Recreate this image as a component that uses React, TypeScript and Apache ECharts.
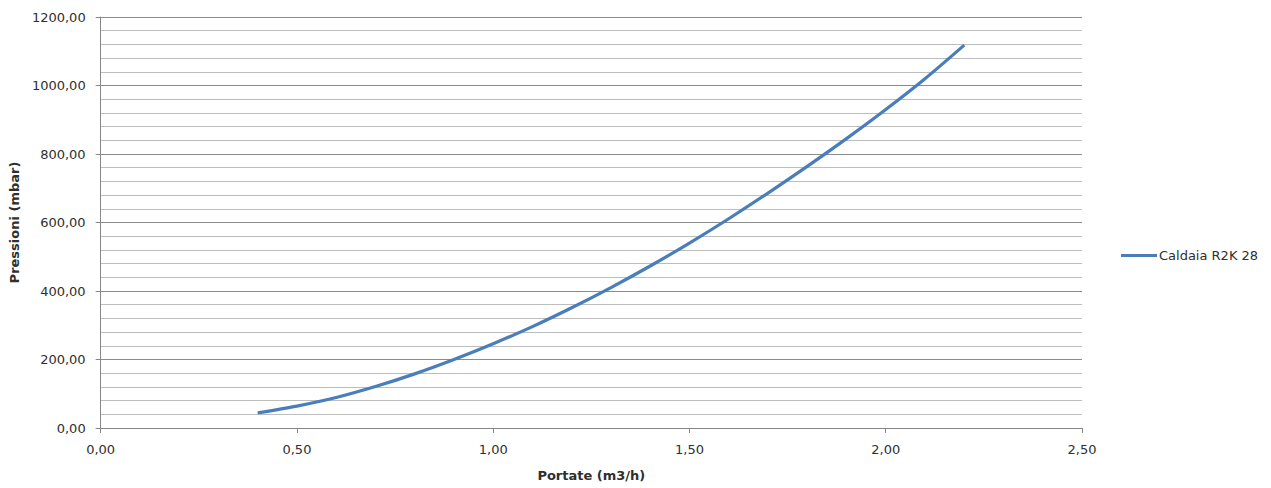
import React, { useEffect, useRef } from "react";
import * as echarts from "echarts";

const seriesName = "Caldaia R2K 28";
const portate = [0.4, 0.5, 0.6, 0.7, 0.8, 0.9, 1.0, 1.1, 1.2, 1.3, 1.4, 1.5, 1.6, 1.7, 1.8, 1.9, 2.0, 2.1, 2.2];
const pressioni = [44, 64, 89, 121, 158, 200, 246, 296, 351, 410, 473, 540, 611, 686, 764, 845, 930, 1020, 1118];
const xAxisTitle = "Portate (m3/h)";
const yAxisTitle = "Pressioni (mbar)";

const fmt = (v: number) => v.toFixed(2).replace(".", ",");

export default function App() {
  const ref = useRef<HTMLDivElement>(null);
  useEffect(() => {
    if (!ref.current) return;
    const chart = echarts.init(ref.current, null, { renderer: "svg" });
    const font = "DejaVu Sans";
    const txt = "#2f2f2f";
    chart.setOption({
      animation: false,
      backgroundColor: "#ffffff",
      textStyle: { fontFamily: font },
      grid: { left: 100, right: 189, top: 17, bottom: 60, containLabel: false },
      legend: {
        show: true,
        orient: "vertical",
        left: 1116,
        top: 244,
        itemWidth: 36,
        itemHeight: 3,
        icon: "rect",
        textStyle: { fontFamily: font, fontSize: 13, color: txt, padding: [0, 0, 0, -3] },
        data: [seriesName],
      },
      xAxis: {
        type: "value",
        min: 0,
        max: 2.5,
        interval: 0.5,
        name: xAxisTitle,
        nameLocation: "middle",
        nameGap: 41,
        nameTextStyle: { fontFamily: font, fontSize: 13, fontWeight: "bold", color: txt },
        axisLine: { show: true, lineStyle: { color: "#868686", width: 1 } },
        axisTick: { show: true, length: 5, lineStyle: { color: "#868686" } },
        axisLabel: { formatter: (v: number) => fmt(v), fontSize: 13, color: txt, margin: 15, fontFamily: font },
        splitLine: { show: false },
      },
      yAxis: {
        type: "value",
        min: 0,
        max: 1200,
        interval: 200,
        name: yAxisTitle,
        nameLocation: "middle",
        nameGap: 74,
        nameTextStyle: { fontFamily: font, fontSize: 13, fontWeight: "bold", color: txt },
        axisLine: { show: true, lineStyle: { color: "#868686", width: 1 } },
        axisTick: { show: true, length: 5, lineStyle: { color: "#868686" } },
        axisLabel: { formatter: (v: number) => fmt(v), fontSize: 13, color: txt, margin: 15, fontFamily: font },
        splitLine: { show: true, lineStyle: { color: "#8c8c8c", width: 1 } },
        minorTick: { show: false, splitNumber: 5 },
        minorSplitLine: { show: true, lineStyle: { color: "#bdbdbd", width: 1 } },
      },
      series: [
        {
          name: seriesName,
          type: "line",
          data: portate.map((q, i) => [q, pressioni[i]]),
          smooth: 0.3,
          showSymbol: false,
          symbol: "none",
          lineStyle: { color: "#4a7ebb", width: 3.2 },
          itemStyle: { color: "#4a7ebb" },
        },
      ],
    });
    return () => chart.dispose();
  }, []);
  return (
    <div
      ref={ref}
      style={{ position: "fixed", left: 0, top: 0, width: 1271, height: 488, background: "#fff" }}
    />
  );
}
